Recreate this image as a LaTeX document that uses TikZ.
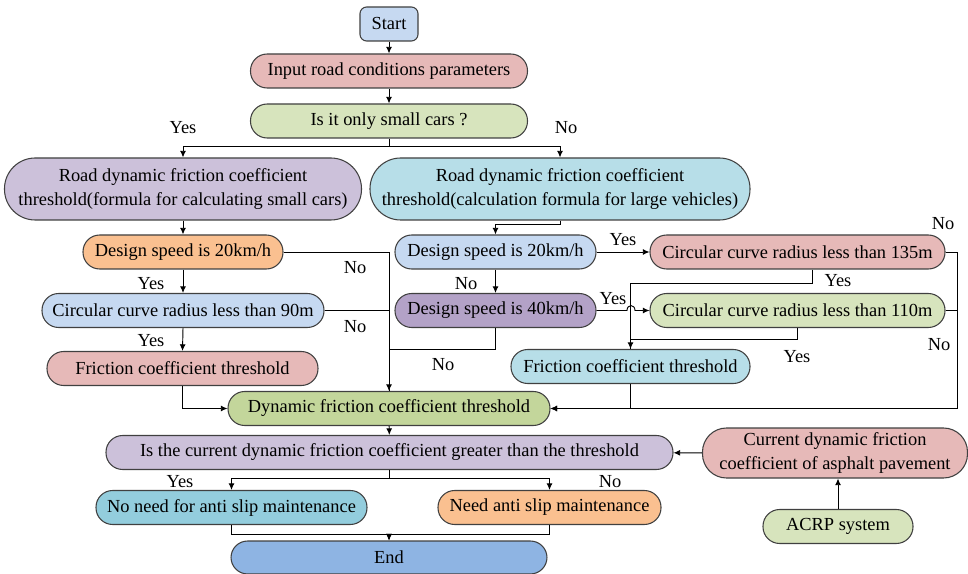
\documentclass[tikz,border=0pt]{standalone}
\usepackage{fontspec}
\setmainfont{Liberation Serif}
\usepackage{tikz}
\usetikzlibrary{arrows.meta}
\definecolor{cblue}{HTML}{C6D9F1}
\definecolor{cpink}{HTML}{E6B9B8}
\definecolor{cgreen}{HTML}{D7E4BD}
\definecolor{cgreenb}{HTML}{C3D69B}
\definecolor{clav}{HTML}{CCC1DA}
\definecolor{cpurple}{HTML}{B3A2C7}
\definecolor{ccyan}{HTML}{B7DEE8}
\definecolor{cteal}{HTML}{93CDDD}
\definecolor{corange}{HTML}{FAC090}
\definecolor{cend}{HTML}{8EB4E3}
\definecolor{cborder}{HTML}{404040}
\tikzstyle{flowbox} = [draw=cborder, line width=0.8pt, rectangle, rounded corners=12.5pt, minimum height=25.5pt, inner sep=0pt, align=center, font=\fontsize{13.8}{18}\selectfont]
\tikzstyle{bigbox} = [flowbox, rounded corners=23pt, minimum height=46.5pt]
\tikzstyle{arrline} = [line width=0.7pt, -{Latex[length=5pt,width=4.5pt]}]
\tikzstyle{plainline} = [line width=0.7pt]
\tikzstyle{lbl} = [inner sep=0pt, font=\fontsize{13.8}{15}\selectfont]

\begin{document}
\begin{tikzpicture}[x=0.75pt, y=-0.75pt]
    \useasboundingbox (0,0) rectangle (968,574);

    \node [flowbox, rounded corners=5pt, fill=cblue, minimum width=43.5pt] (start) at (389,24) {Start};
    \node [flowbox, fill=cpink, minimum width=207.75pt] (input) at (389,71) {Input road conditions parameters};
    \node [flowbox, fill=cgreen, minimum width=207.75pt] (small) at (389,121) {Is it only small cars ?};
    \node [bigbox, fill=clav, minimum width=267.75pt] (bigL) at (183,189) {Road dynamic friction coefficient\\threshold(formula for calculating small cars)};
    \node [bigbox, fill=ccyan, minimum width=285pt] (bigR) at (560,189) {Road dynamic friction coefficient\\threshold(calculation formula for large vehicles)};

    \node [flowbox, fill=corange, minimum width=150pt] (spdL) at (183,252) {Design speed is 20km/h};
    \node [flowbox, fill=cblue, minimum width=211.5pt] (rad90) at (183,310.5) {Circular curve radius less than 90m};
    \node [flowbox, fill=cpink, minimum width=203.25pt] (thrL) at (182.5,368.5) {Friction coefficient threshold};

    \node [flowbox, fill=cblue, minimum width=150.75pt] (spd20) at (495.5,252) {Design speed is 20km/h};
    \node [flowbox, fill=cpurple, minimum width=150.75pt] (spd40) at (495.5,310.5) {Design speed is 40km/h};
    \node [flowbox, fill=cpink, minimum width=221.25pt] (rad135) at (797.5,252) {Circular curve radius less than 135m};
    \node [flowbox, fill=cgreen, minimum width=221.25pt] (rad110) at (797.5,310.5) {Circular curve radius less than 110m};
    \node [flowbox, fill=ccyan, minimum width=179.25pt] (thrR) at (630.5,366.5) {Friction coefficient threshold};

    \node [flowbox, fill=cgreenb, minimum width=241.5pt] (dyn) at (389,408.5) {Dynamic friction coefficient threshold};
    \node [flowbox, fill=clav, minimum width=425.25pt] (cmp) at (389.5,452.5) {Is the current dynamic friction coefficient greater than the threshold};
    \node [flowbox, rounded corners=18pt, fill=cpink, minimum width=198.75pt, minimum height=37.5pt] (pave) at (835,453) {Current dynamic friction\\coefficient of asphalt pavement};
    \node [flowbox, fill=cgreen, minimum width=112.5pt] (acrp) at (838,526.5) {ACRP system};
    \node [flowbox, fill=cteal, minimum width=203.25pt] (noneed) at (231.5,507.5) {No need for anti slip maintenance};
    \node [flowbox, fill=corange, minimum width=167.25pt] (need) at (549.5,507.5) {Need anti slip maintenance};
    \node [flowbox, fill=cend, minimum width=237pt, minimum height=24.75pt] (end) at (389,557.5) {End};

    \draw [arrline] (start) -- (input);
    \draw [arrline] (input) -- (small);
    \draw [arrline] (small.south) -- ++(0,8) -| (bigL.north);
    \draw [arrline] (small.south) -- ++(0,8) -| (bigR.north);
    \draw [arrline] (bigL.south) -- (spdL.north);
    \draw [arrline] (spdL.south) -- (rad90.north);
    \draw [arrline] (rad90.south) -- (thrL.north);
    \draw [arrline] (spdL.east) -| (dyn.north);
    \draw [plainline] (rad90.east) -- (rad90.east -| dyn.north);
    \draw [plainline] (spd40.south) -- ++(0,21) -| (dyn.north);
    \draw [arrline] (thrL.south) |- (dyn.west);

    \draw [arrline] (bigR.south) -- ++(0,4) -| (spd20.north);
    \draw [arrline] (spd20.south) -- (spd40.north);
    \draw [arrline] (spd20.east) -- (rad135.west);
    \draw [arrline] (spd40.east) -- (627,310.5) .. controls (627,304) and (635,304) .. (635,310.5) -- (rad110.west);
    \draw [arrline] ([xshift=11pt]rad135.south) -- ++(0,14) -| (thrR.north);
    \draw [plainline] (rad110.south) -- ++(0,11) -| (thrR.north);
    \draw [arrline] (rad135.east) -- ++(12,0) |- (dyn.east);
    \draw [plainline] (rad110.east) -- ++(12,0);
    \draw [arrline] (thrR.south) |- (dyn.east);

    \draw [arrline] (dyn) -- (cmp);
    \draw [arrline] (pave) -- (cmp);
    \draw [arrline] (acrp.north) -- (acrp.north |- pave.south);
    \draw [arrline] (cmp.south) -- ++(0,8) -| (noneed.north);
    \draw [arrline] (cmp.south) -- ++(0,8) -| (need.north);
    \draw [arrline] (noneed.south) -- ++(0,9) -| (end.north);
    \draw [arrline] (need.south) -- ++(0,9) -| (end.north);

    \node [lbl] (y1) at (183,128) {Yes};
    \node [lbl] (n1) at (566,128) {No};
    \node [lbl] (n2) at (355,268) {No};
    \node [lbl] (y2) at (151,284) {Yes};
    \node [lbl] (n3) at (355,327) {No};
    \node [lbl] (y3) at (151,341) {Yes};
    \node [lbl] (n4) at (443,365) {No};
    \node [lbl] (y4) at (623,240) {Yes};
    \node [lbl] (n5) at (466,284) {No};
    \node [lbl] (y5) at (613,299) {Yes};
    \node [lbl] (y6) at (838,281) {Yes};
    \node [lbl] (n6) at (943,224) {No};
    \node [lbl] (y7) at (797,357) {Yes};
    \node [lbl] (n7) at (939,345) {No};
    \node [lbl] (y8) at (180,482) {Yes};
    \node [lbl] (n8) at (610,482) {No};
\end{tikzpicture}
\end{document}
